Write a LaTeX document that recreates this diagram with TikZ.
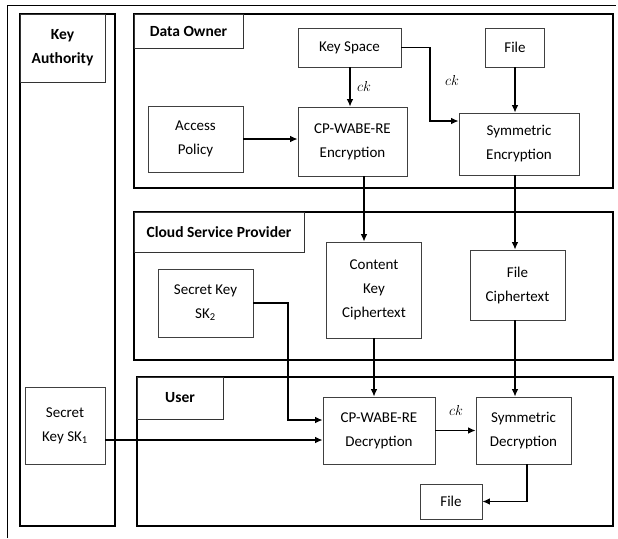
\documentclass[tikz,border=0pt]{standalone}
\usepackage{fontspec}
\setmainfont{Carlito}
\usetikzlibrary{arrows.meta}

\begin{document}
\begin{tikzpicture}[x=1pt,y=-1pt,>={Latex[length=7.5pt,width=6.5pt]},
        sect/.style={draw,line width=1.6pt,inner sep=0pt},
        ttl/.style={draw=black!80,line width=0.8pt,inner sep=0pt,align=center,font=\fontsize{15.5}{24}\selectfont\bfseries},
        blk/.style={draw=black!75,line width=0.7pt,inner sep=0pt,align=center,font=\fontsize{15}{24}\selectfont},
        lbl/.style={font=\fontsize{14}{16}\selectfont},
        arr/.style={->,line width=1.3pt}]

  \useasboundingbox (0,0) rectangle (618,538);
  \draw[line width=0.9pt] (7,538) -- (7,5) -- (616,5);

  \node[sect,line width=1.2pt,minimum width=95,minimum height=512] (ka) at (67.5,270) {};
  \node[ttl,minimum width=85,minimum height=68] (katitle) at (62.5,48) {Key\\Authority};
  \node[sect,minimum width=479,minimum height=174] (do) at (373.5,101) {};
  \node[ttl,minimum width=109,minimum height=34] (dotitle) at (188.5,31) {Data Owner};
  \node[sect,minimum width=479,minimum height=148] (csp) at (373.5,286) {};
  \node[ttl,minimum width=170,minimum height=40] (csptitle) at (219,232) {Cloud Service Provider};
  \node[sect,line width=1.2pt,minimum width=476,minimum height=149] (usr) at (375,451.5) {};
  \node[ttl,minimum width=86,minimum height=42] (usrtitle) at (180,398) {User};

  \node[blk,minimum width=103,minimum height=39] (keyspace) at (349.5,47.5) {Key Space};
  \node[blk,minimum width=59,minimum height=39] (file1) at (515,47.5) {File};
  \node[blk,minimum width=95,minimum height=66] (access) at (195.5,139) {Access\\Policy};
  \node[blk,minimum width=109,minimum height=69] (enc) at (352.5,141.5) {CP-WABE-RE\\Encryption};
  \node[blk,minimum width=120,minimum height=62] (symenc) at (519,144) {Symmetric\\Encryption};
  \node[blk,minimum width=95,minimum height=96] (ckct) at (374,290) {Content\\Key\\Ciphertext};
  \node[blk,minimum width=95,minimum height=70] (fct) at (517.5,285) {File\\Ciphertext};
  \node[blk,minimum width=95,minimum height=68] (sk2) at (205.5,303) {Secret Key\\SK\textsubscript{2}};
  \node[blk,minimum width=112,minimum height=67] (dec) at (379,430.5) {CP-WABE-RE\\Decryption};
  \node[blk,minimum width=95,minimum height=67] (symdec) at (523.5,430.5) {Symmetric\\Decryption};
  \node[blk,minimum width=62,minimum height=35] (file2) at (451,501.5) {File};
  \node[blk,minimum width=80,minimum height=77] (sk1) at (65,425.5) {Secret\\Key SK\textsubscript{1}};

  \node[lbl] (ck1) at (364,86) {$ck$};
  \node[lbl] (ck2) at (452,80) {$ck$};
  \node[lbl] (ck3) at (456,410) {$ck$};

  \coordinate (bend1) at (430,121);
  \coordinate (bend2) at (288,420);

  \draw[arr] ([xshift=0.5pt]keyspace.south) -- ([xshift=0.5pt]keyspace.south |- enc.north);
  \draw[arr] (keyspace.east) -| (bend1) -- (bend1 -| symenc.west);
  \draw[arr] (file1.south) -- (file1.south |- symenc.north);
  \draw[arr] (access.east) -- (access.east -| enc.west);
  \draw[arr] ([xshift=11.5pt]enc.south) -- ([xshift=11.5pt]enc.south |- ckct.north);
  \draw[arr] ([xshift=-2.5pt]fct.north |- symenc.south) -- ([xshift=-2.5pt]fct.north);
  \draw[arr] (ckct.south) -- (ckct.south |- dec.north);
  \draw[arr] ([xshift=-2.5pt]fct.south) -- ([xshift=-2.5pt]fct.south |- symdec.north);
  \draw[arr] (sk2.east) -| (bend2) -- (bend2 -| dec.west);
  \draw[arr] ([yshift=-14.5pt]sk1.east) -- ([yshift=-14.5pt]sk1.east -| dec.west);
  \draw[arr] (dec) -- (symdec);
  \draw[arr] ([xshift=3.5pt]symdec.south) |- (file2.east);

\end{tikzpicture}
\end{document}
